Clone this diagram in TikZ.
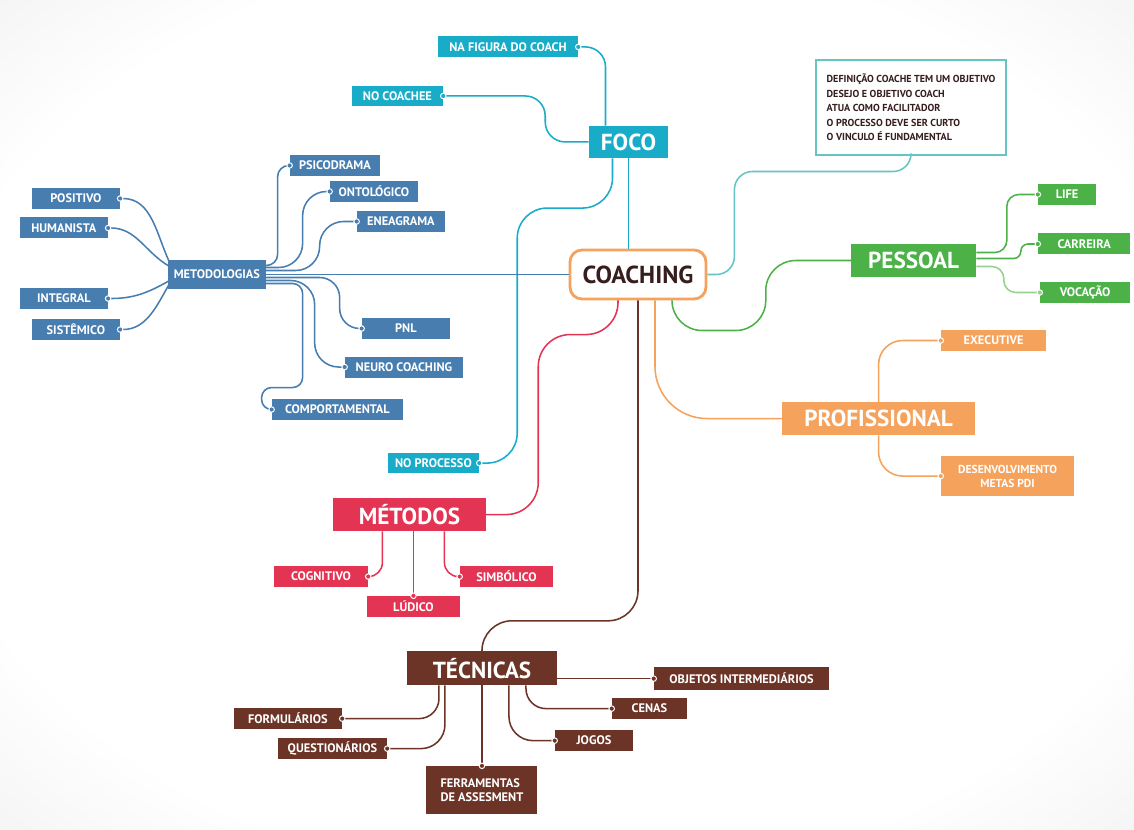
\documentclass[tikz,border=0pt]{standalone}
\usepackage{fontspec}
\setmainfont{PT Sans}
\usepackage{tikz}
\usetikzlibrary{arrows.meta, positioning, calc}

\definecolor{cfoco}{RGB}{24,172,200}
\definecolor{cdef}{RGB}{100,198,196}
\definecolor{cmet}{RGB}{72,125,176}
\definecolor{cpes}{RGB}{76,178,72}
\definecolor{cpesl}{RGB}{150,210,140}
\definecolor{cpro}{RGB}{245,162,92}
\definecolor{cmtd}{RGB}{228,52,84}
\definecolor{ctec}{RGB}{108,52,38}
\definecolor{ctxt}{RGB}{55,30,30}

\pgfdeclareradialshading{vignette}{\pgfpoint{0bp}{0bp}}{color(0bp)=(white); color(28bp)=(white); color(45bp)=(gray!18); color(52bp)=(gray!30)}

\begin{document}
\begin{tikzpicture}[x=0.025cm, y=-0.025cm, on grid,
    lbl/.style={fill=#1, text=white, font=\bfseries\fontsize{8.8}{10}\selectfont, inner sep=1pt, minimum height=0.525cm},
    main/.style={fill=#1, text=white, font=\bfseries\fontsize{16.5}{18}\selectfont, inner sep=1pt, minimum height=0.825cm},
    con/.style={draw=#1, line width=1.1pt, rounded corners=0.45cm},
    knob/.style={-{Circle[length=4.6pt, fill=#1, color=white, line width=0.7pt]}, shorten >=-2.3pt}]
    \shade[shading=vignette] (0,0) rectangle (1134,830);
    \useasboundingbox (0,0) rectangle (1134,830);

    \node[draw=cpro, line width=2pt, rounded corners=0.3cm, fill=white, text=ctxt,
          font=\bfseries\fontsize{17.5}{19}\selectfont, minimum width=3.4cm, minimum height=1.225cm] (coaching) at (638,274.5) {COACHING};

    \node[main=cfoco, minimum width=1.975cm, minimum height=0.8cm, above left=3.3125cm and 0.2375cm of coaching] (foco) {FOCO};
    \node[lbl=cfoco, minimum width=3.5cm, above left=2.375cm and 3.0125cm of foco] (nafig) {NA FIGURA DO COACH};
    \node[lbl=cfoco, minimum width=2.275cm, minimum height=0.5cm, above left=1.15cm and 5.775cm of foco] (nocoachee) {NO COACHEE};
    \node[lbl=cfoco, minimum width=2.275cm, minimum height=0.5cm, below left=8.025cm and 4.875cm of foco] (noproc) {NO PROCESSO};

    \node[draw=cdef, line width=1pt, fill=white, text=ctxt, align=left, font=\bfseries\fontsize{7.2}{10.3}\selectfont,
          minimum width=4.75cm, minimum height=2.375cm, above right=4.175cm and 6.825cm of coaching] (defbox)
          {DEFINIÇÃO COACHE TEM UM OBJETIVO\\DESEJO E OBJETIVO COACH\\ATUA COMO FACILITADOR\\O PROCESSO DEVE SER CURTO\\O VINCULO É FUNDAMENTAL};

    \node[main=cpes, minimum width=3.125cm, above right=0.35cm and 6.8875cm of coaching] (pessoal) {PESSOAL};
    \node[lbl=cpes, minimum width=1.45cm, above right=1.65cm and 3.8375cm of pessoal] (life) {LIFE};
    \node[lbl=cpes, minimum width=2.3cm, above right=0.4125cm and 4.2625cm of pessoal] (carreira) {CARREIRA};
    \node[lbl=cpes, minimum width=2.25cm, below right=0.8cm and 4.2875cm of pessoal] (vocacao) {VOCAÇÃO};

    \node[main=cpro, minimum width=4.825cm, below right=3.6cm and 6.0125cm of coaching] (profissional) {PROFISSIONAL};
    \node[lbl=cpro, minimum width=2.625cm, above right=1.95cm and 2.875cm of profissional] (executive) {EXECUTIVE};
    \node[lbl=cpro, align=center, font=\bfseries\fontsize{8.2}{10}\selectfont, minimum width=3.325cm, minimum height=1cm,
          below right=1.4375cm and 3.225cm of profissional] (desenv) {DESENVOLVIMENTO\\METAS PDI};

    \node[lbl=cmet, minimum width=2.45cm, minimum height=0.725cm, left=10.525cm of coaching] (metod) {METODOLOGIAS};
    \node[lbl=cmet, minimum width=2.2cm, above left=1.9cm and 3.525cm of metod] (positivo) {POSITIVO};
    \node[lbl=cmet, minimum width=2.2cm, above left=1.1625cm and 3.825cm of metod] (humanista) {HUMANISTA};
    \node[lbl=cmet, minimum width=2.2cm, below left=0.6cm and 3.825cm of metod] (integral) {INTEGRAL};
    \node[lbl=cmet, minimum width=2.2cm, below left=1.375cm and 3.525cm of metod] (sistemico) {SISTÊMICO};
    \node[lbl=cmet, minimum width=2.25cm, above right=2.725cm and 2.95cm of metod] (psico) {PSICODRAMA};
    \node[lbl=cmet, minimum width=2.2cm, above right=2.075cm and 3.925cm of metod] (onto) {ONTOLÓGICO};
    \node[lbl=cmet, minimum width=2.2cm, above right=1.325cm and 4.6cm of metod] (enea) {ENEAGRAMA};
    \node[lbl=cmet, minimum width=2.2cm, below right=1.35cm and 4.725cm of metod] (pnl) {PNL};
    \node[lbl=cmet, minimum width=2.95cm, below right=2.3125cm and 4.675cm of metod] (neuro) {NEURO COACHING};
    \node[lbl=cmet, minimum width=3.275cm, below right=3.375cm and 3.0125cm of metod] (comp) {COMPORTAMENTAL};

    \node[main=cmtd, minimum width=3.825cm, below left=6cm and 5.7125cm of coaching] (metodos) {MÉTODOS};
    \node[lbl=cmtd, minimum width=2.35cm, below left=1.55cm and 2.2125cm of metodos] (cognitivo) {COGNITIVO};
    \node[lbl=cmtd, minimum width=2.325cm, below right=2.3cm and 0.1cm of metodos] (ludico) {LÚDICO};
    \node[lbl=cmtd, minimum width=2.325cm, below right=1.55cm and 2.425cm of metodos] (simbolico) {SIMBÓLICO};

    \node[main=ctec, minimum width=3.75cm, minimum height=0.85cm, below left=9.8375cm and 3.9cm of coaching] (tecnicas) {TÉCNICAS};
    \node[lbl=ctec, minimum width=4.375cm, minimum height=0.575cm, below right=0.2625cm and 6.4875cm of tecnicas] (objetos) {OBJETOS INTERMEDIÁRIOS};
    \node[lbl=ctec, minimum width=1.875cm, below right=1.0125cm and 4.1875cm of tecnicas] (cenas) {CENAS};
    \node[lbl=ctec, minimum width=1.95cm, below right=1.8125cm and 2.8cm of tecnicas] (jogos) {JOGOS};
    \node[lbl=ctec, minimum width=2.7cm, below left=1.2625cm and 4.85cm of tecnicas] (formularios) {FORMULÁRIOS};
    \node[lbl=ctec, minimum width=2.725cm, below left=2.0125cm and 3.7375cm of tecnicas] (questionarios) {QUESTIONÁRIOS};
    \node[lbl=ctec, align=left, minimum width=2.775cm, minimum height=1.2cm, below=3.05cm of tecnicas] (ferramentas) {FERRAMENTAS\\DE ASSESMENT};

    \draw[con=cfoco] (foco.south) -- (foco.south |- coaching.north);
    \draw[con=cfoco, knob=cfoco, rounded corners=0.5cm] ($(foco.north)+(-23,0)$) |- (nafig.east);
    \draw[con=cfoco, knob=cfoco, rounded corners=0.5cm] (foco.west) -| ($(nocoachee.east)+(102,0)$) -- (nocoachee.east);
    \draw[con=cfoco, knob=cfoco, rounded corners=0.75cm] ($(foco.south)+(-16,0)$) |- ($(noproc.east)+(38,-255)$) |- (noproc.east);
    \draw[con=cdef, rounded corners=0.45cm] (defbox.south) |- ($(coaching.east)+(27,-103)$) |- (coaching.east);

    \draw[con=cpes, rounded corners=0.75cm] ($(coaching.south)+(34,0)$) |- ($(pessoal.west)+(-85,70)$) |- (pessoal.west);
    \draw[con=cpes, knob=cpes, rounded corners=0.3cm] ($(pessoal.east)+(0,-8)$) -| ($(life.west)+(-31,0)$) -- (life.west);
    \draw[con=cpes, knob=cpes, rounded corners=0.18cm] ($(pessoal.east)+(0,-2)$) -| ($(carreira.west)+(-17,0)$) -- (carreira.west);
    \draw[con=cpesl, knob=cpesl, rounded corners=0.3cm] ($(pessoal.east)+(0,6)$) -| ($(vocacao.west)+(-36,0)$) -- (vocacao.west);

    \draw[con=cpro, rounded corners=1.3cm] ($(coaching.south)+(17,0)$) |- (profissional.west);
    \draw[con=cpro, knob=cpro, rounded corners=0.6cm] (profissional.north) |- (executive.west);
    \draw[con=cpro, knob=cpro, rounded corners=0.6cm] (profissional.south) |- (desenv.west);

    \draw[con=cmet] (coaching.west) -- (coaching.west -| metod.east);
    \draw[con=cmet, knob=cmet] ($(metod.west)+(2,-12)$) to[out=115, in=0] (positivo.east);
    \draw[con=cmet, knob=cmet] ($(metod.west)+(2,-8)$) to[out=150, in=0] (humanista.east);
    \draw[con=cmet, knob=cmet] ($(metod.west)+(2,6)$) to[out=210, in=0] (integral.east);
    \draw[con=cmet, knob=cmet] ($(metod.west)+(2,9)$) to[out=240, in=0] (sistemico.east);
    \draw[con=cmet, knob=cmet, rounded corners=0.28cm] ($(metod.east)+(0,-9)$) -| ($(psico.west)+(-12,0)$) -- (psico.west);
    \draw[con=cmet, knob=cmet, rounded corners=0.6cm] ($(metod.east)+(0,-7)$) -| ($(onto.west)+(-27,0)$) -- (onto.west);
    \draw[con=cmet, knob=cmet, rounded corners=0.6cm] ($(metod.east)+(0,-4)$) -| ($(enea.west)+(-37,0)$) -- (enea.west);
    \draw[con=cmet, knob=cmet, rounded corners=0.5cm] ($(metod.east)+(0,3)$) -| ($(pnl.west)+(-22,0)$) -- (pnl.west);
    \draw[con=cmet, knob=cmet, rounded corners=0.6cm] ($(metod.east)+(0,6)$) -| ($(neuro.west)+(-30,0)$) -- (neuro.west);
    \draw[con=cmet, knob=cmet, rounded corners=0.25cm] ($(metod.east)+(0,9)$) -| ($(comp.west)+(31,-22)$) -| ($(comp.west)+(-10,0)$) -- (comp.west);

    \draw[con=cmtd, rounded corners=0.8cm] ($(coaching.south)+(-20,0)$) |- ($(metodos.east)+(52,-180)$) |- (metodos.east);
    \draw[con=cmtd, knob=cmtd, rounded corners=0.35cm] ($(metodos.south)+(-27,0)$) |- (cognitivo.east);
    \draw[con=cmtd, knob=cmtd] (metodos.south -| ludico.north) -- (ludico.north);
    \draw[con=cmtd, knob=cmtd, rounded corners=0.35cm] ($(metodos.south)+(35,0)$) |- (simbolico.west);

    \draw[con=ctec, rounded corners=0.75cm] (coaching.south) |- ($(tecnicas.north)+(0,-30)$) -- (tecnicas.north);
    \draw[con=ctec, knob=ctec] (objetos.west -| tecnicas.east) -- (objetos.west);
    \draw[con=ctec, knob=ctec, rounded corners=0.5cm] ($(tecnicas.south)+(44,0)$) |- (cenas.west);
    \draw[con=ctec, knob=ctec, rounded corners=0.6cm] ($(tecnicas.south)+(27,0)$) |- (jogos.west);
    \draw[con=ctec, knob=ctec, rounded corners=0.5cm] ($(tecnicas.south)+(-43,0)$) |- (formularios.east);
    \draw[con=ctec, knob=ctec, rounded corners=0.6cm] ($(tecnicas.south)+(-37,0)$) |- (questionarios.east);
    \draw[con=ctec, knob=ctec] (tecnicas.south) -- (ferramentas.north);
\end{tikzpicture}
\end{document}
